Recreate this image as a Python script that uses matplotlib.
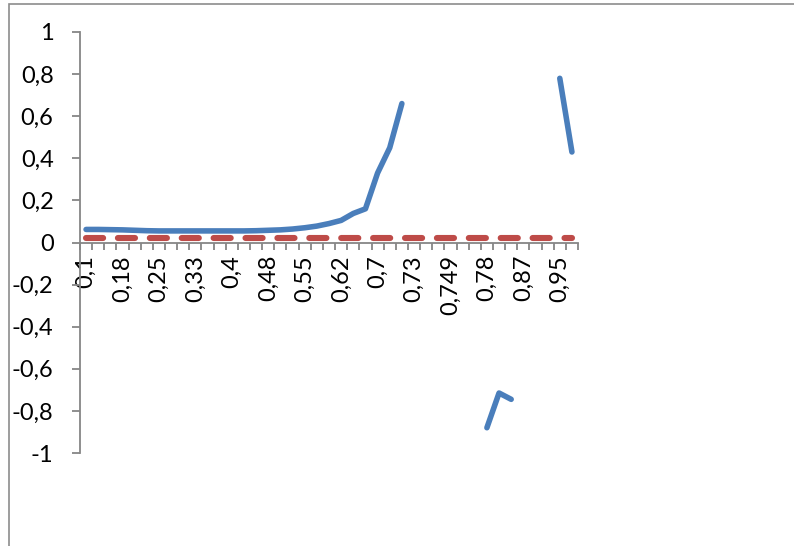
import numpy as np
import matplotlib
matplotlib.use('Agg')
from matplotlib import pyplot as plt
from matplotlib.patches import Rectangle

# categories (x axis labels, only every third one is shown on the axis)
categories = ['0,1', '0,13', '0,15', '0,18', '0,2', '0,23', '0,25', '0,28', '0,3', '0,33',
              '0,35', '0,38', '0,4', '0,43', '0,45', '0,48', '0,5', '0,53', '0,55', '0,58',
              '0,6', '0,62', '0,65', '0,68', '0,7', '0,71', '0,72', '0,73', '0,74', '0,745',
              '0,749', '0,75', '0,76', '0,78', '0,8', '0,83', '0,87', '0,9', '0,93', '0,95',
              '0,97']

nan = np.nan
series1 = [0.062, 0.062, 0.061, 0.060, 0.058, 0.056, 0.055, 0.055, 0.055, 0.055,
           0.055, 0.055, 0.055, 0.055, 0.056, 0.058, 0.060, 0.064, 0.070, 0.078,
           0.090, 0.105, 0.138, 0.160, 0.330, 0.450, 0.660, nan, nan, nan,
           nan, nan, nan, -0.880, -0.715, -0.745, nan, nan, nan, 0.780,
           0.430]
series2 = [0.02] * len(categories)

W, H = 794, 546
fig = plt.figure(figsize=(W / 100, H / 100), dpi=100)

# outer chart frame (only top and left edges visible)
fig.add_artist(Rectangle((8.5 / W, -0.1), 1.2, (H - 4) / H + 0.1, transform=fig.transFigure,
                         fill=False, edgecolor='#8c8c8c', linewidth=1.2))

ax = fig.add_axes([80 / W, (H - 453) / H, 498 / W, 421 / H])
ax.set_facecolor('none')

n = len(categories)
x = np.arange(n) + 0.5
ax.plot(x, series1, color='#4A7EBB', linewidth=4.0, solid_capstyle='round',
        solid_joinstyle='round', zorder=3)
ax.plot(x, series2, color='#BE4B48', linewidth=4.4, dashes=(2.8, 2.42),
        dash_capstyle='round', zorder=2)

ax.set_xlim(0, n)
ax.set_ylim(-1, 1)

for s in ['top', 'right']:
    ax.spines[s].set_visible(False)
ax.spines['bottom'].set_position(('data', 0))
for s in ['left', 'bottom']:
    ax.spines[s].set_color('#868686')
    ax.spines[s].set_linewidth(1.3)

yt = np.linspace(-1, 1, 11)
ax.set_yticks(yt)
ax.set_yticklabels([('%g' % v).replace('.', ',') for v in np.round(yt, 1)])
ax.tick_params(axis='y', direction='out', length=6, width=1.3, color='#868686',
               pad=13, labelsize=17)

ax.set_xticks(np.arange(n + 1))
ax.set_xticklabels([])
ax.set_xticks(x[::3], minor=True)
ax.set_xticklabels(categories[::3], minor=True, rotation=90)
ax.tick_params(axis='x', which='major', direction='out', length=5, width=1.3, color='#868686')
ax.tick_params(axis='x', which='minor', length=0, pad=9, labelsize=17)

for lab in ax.get_xticklabels(minor=True) + ax.get_yticklabels():
    lab.set_fontfamily(['Lato', 'DejaVu Sans'])

fig.savefig('out.png', dpi=100)
